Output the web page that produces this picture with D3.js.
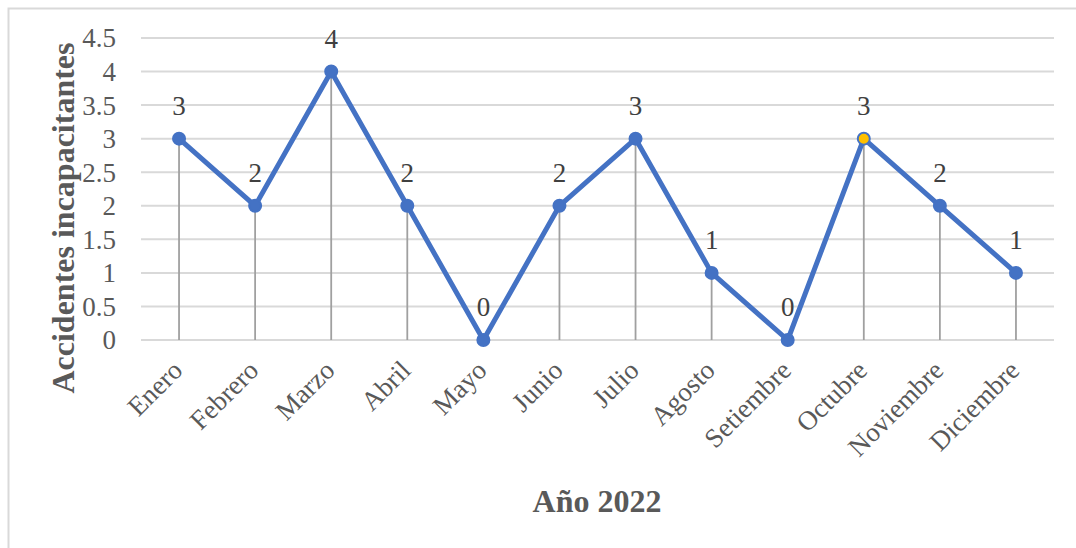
<!DOCTYPE html>
<html>
<head>
<meta charset="utf-8">
<script src="https://cdn.jsdelivr.net/npm/d3@7"></script>
<style>
    body { margin: 0; background: #fff; }
    svg { display: block; }
    text { font-family: "Liberation Serif", "Times New Roman", serif; }
</style>
</head>
<body>
<div id="chart"></div>
<script>
// data
const months = ["Enero", "Febrero", "Marzo", "Abril", "Mayo", "Junio", "Julio",
    "Agosto", "Setiembre", "Octubre", "Noviembre", "Diciembre"];
const accidents = [3, 2, 4, 2, 0, 2, 3, 1, 0, 3, 2, 1];
const yTicks = [0, 0.5, 1, 1.5, 2, 2.5, 3, 3.5, 4, 4.5];
const highlighted = ["Octubre"];

const W = 1076, H = 548;
const margin = { top: 38, right: 22, bottom: 208, left: 141 };
const width = W - margin.left - margin.right;
const height = H - margin.top - margin.bottom;

const svg = d3.select("#chart").append("svg")
    .attr("width", W)
    .attr("height", H);

// chart frame (only top and left edges visible)
svg.append("path")
    .attr("d", `M8.5,${H} V8.5 H${W}`)
    .attr("fill", "none")
    .attr("stroke", "#d9d9d9")
    .attr("stroke-width", 2);

const g = svg.append("g")
    .attr("transform", `translate(${margin.left},${margin.top})`);

const x = d3.scalePoint()
    .domain(months)
    .range([0, width])
    .padding(0.5);

const y = d3.scaleLinear()
    .domain([0, 4.5])
    .range([height, 0]);

// gridlines
g.append("g")
    .selectAll("line")
    .data(yTicks)
    .join("line")
    .attr("x1", 0)
    .attr("x2", width)
    .attr("y1", d => y(d))
    .attr("y2", d => y(d))
    .attr("stroke", "#d9d9d9")
    .attr("stroke-width", 2);

// y axis labels
g.append("g")
    .selectAll("text")
    .data(yTicks)
    .join("text")
    .attr("x", -25)
    .attr("y", d => y(d))
    .attr("dy", "0.35em")
    .attr("text-anchor", "end")
    .attr("fill", "#595959")
    .style("font-size", "27px")
    .text(d => d);

// drop lines
g.append("g")
    .selectAll("line")
    .data(months)
    .join("line")
    .attr("x1", d => x(d))
    .attr("x2", d => x(d))
    .attr("y1", (d, i) => y(accidents[i]))
    .attr("y2", y(0))
    .attr("stroke", "#a0a0a0")
    .attr("stroke-width", 1.8);

// x axis labels, rotated
g.append("g")
    .selectAll("text")
    .data(months)
    .join("text")
    .attr("transform", d => `translate(${x(d) + 5},${height + 32}) rotate(-45)`)
    .attr("text-anchor", "end")
    .attr("fill", "#595959")
    .style("font-size", "27px")
    .text(d => d);

// series line
const line = d3.line()
    .x((d, i) => x(months[i]))
    .y(d => y(d));

g.append("path")
    .datum(accidents)
    .attr("fill", "none")
    .attr("stroke", "#4472c4")
    .attr("stroke-width", 5)
    .attr("stroke-linejoin", "round")
    .attr("d", line);

// markers
g.append("g")
    .selectAll("circle")
    .data(accidents)
    .join("circle")
    .attr("cx", (d, i) => x(months[i]))
    .attr("cy", d => y(d))
    .attr("r", 6)
    .attr("fill", (d, i) => highlighted.includes(months[i]) ? "#ffc000" : "#4472c4")
    .attr("stroke", "#4472c4")
    .attr("stroke-width", 2);

// data labels
g.append("g")
    .selectAll("text")
    .data(accidents)
    .join("text")
    .attr("x", (d, i) => x(months[i]))
    .attr("y", d => y(d) - 24)
    .attr("text-anchor", "middle")
    .attr("fill", "#404040")
    .style("font-size", "27px")
    .text(d => d);

// axis titles
svg.append("text")
    .attr("x", 597)
    .attr("y", 512)
    .attr("text-anchor", "middle")
    .attr("fill", "#595959")
    .style("font-size", "32px")
    .style("font-weight", "bold")
    .text("Año 2022");

svg.append("text")
    .attr("transform", `translate(74,${margin.top + 180}) rotate(-90)`)
    .attr("text-anchor", "middle")
    .attr("fill", "#595959")
    .style("font-size", "32px")
    .style("font-weight", "bold")
    .text("Accidentes incapacitantes");
</script>
</body>
</html>
